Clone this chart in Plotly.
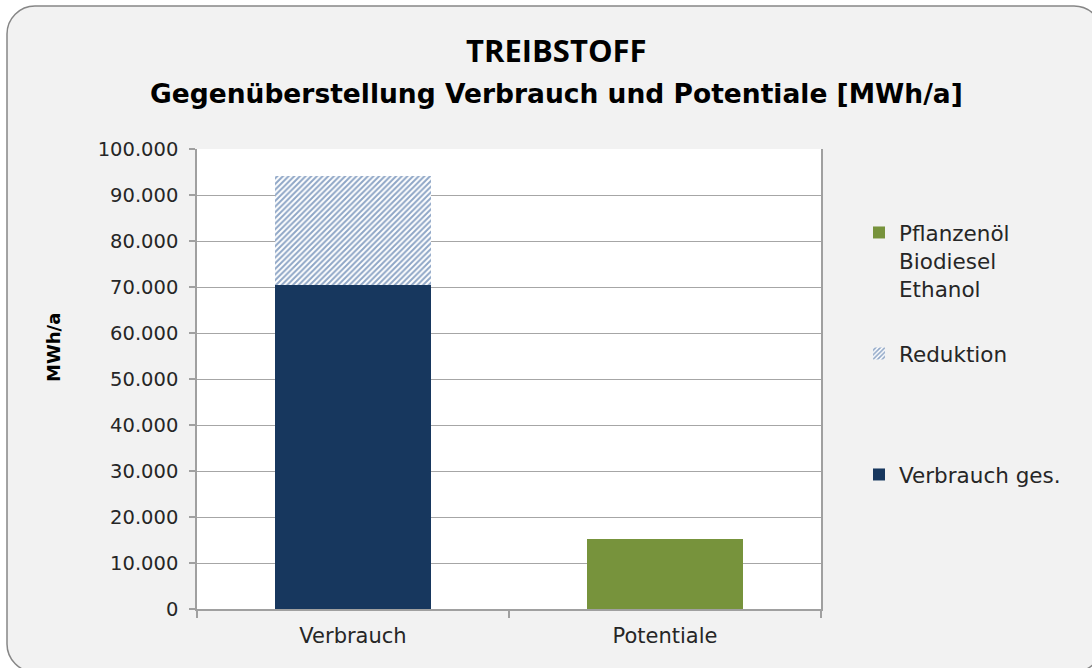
import plotly.graph_objects as go

# Data (MWh/a)
categories = ["Verbrauch", "Potentiale"]
verbrauch_ges = [70500, None]
reduktion = [23600, None]
pflanzenoel = [None, 15200]

y_ticks = [0, 10000, 20000, 30000, 40000, 50000, 60000, 70000, 80000, 90000, 100000]
y_tick_labels = ["0", "10.000", "20.000", "30.000", "40.000", "50.000",
                 "60.000", "70.000", "80.000", "90.000", "100.000"]

W, H = 1092, 668
ML, MR, MT, MB = 197, 271, 149, 59
PW, PH = W - ML - MR, H - MT - MB

NAVY = "#17375E"
GREEN = "#77933C"
FONT = "DejaVu Sans"
TXT = "#262626"


def px(x):
    return (x - ML) / PW


def py(y):
    return (H - MB - y) / PH


fig = go.Figure()
fig.add_bar(
    x=categories, y=verbrauch_ges, name="Verbrauch ges.",
    marker=dict(color=NAVY, line=dict(width=0)), width=0.5, legend="legend3",
)
fig.add_bar(
    x=categories, y=reduktion, name="Reduktion",
    marker=dict(color="white", line=dict(width=0),
                pattern=dict(shape="/", fgcolor="#1F4E8E", bgcolor="white",
                             size=4, solidity=0.5)),
    width=0.5, legend="legend2",
)
fig.add_bar(
    x=categories, y=pflanzenoel, name="Pflanzenöl<br>Biodiesel<br>Ethanol",
    marker=dict(color=GREEN, line=dict(width=0)), width=0.5, legend="legend",
)


def rounded_path(x0, y0, x1, y1, r):
    k = 0.5523 * r
    pts = [
        f"M{px(x0)},{py(y0 + r)}",
        f"C{px(x0)},{py(y0 + r - k)} {px(x0 + r - k)},{py(y0)} {px(x0 + r)},{py(y0)}",
        f"L{px(x1 - r)},{py(y0)}",
        f"C{px(x1 - r + k)},{py(y0)} {px(x1)},{py(y0 + r - k)} {px(x1)},{py(y0 + r)}",
        f"L{px(x1)},{py(y1 - r)}",
        f"C{px(x1)},{py(y1 - r + k)} {px(x1 - r + k)},{py(y1)} {px(x1 - r)},{py(y1)}",
        f"L{px(x0 + r)},{py(y1)}",
        f"C{px(x0 + r - k)},{py(y1)} {px(x0)},{py(y1 - r + k)} {px(x0)},{py(y1 - r)}",
        "Z",
    ]
    return " ".join(pts)


frame = rounded_path(7, 6, 1102, 672, 28)
hole = f"M{px(ML)},{py(MT)} L{px(ML + PW)},{py(MT)} L{px(ML + PW)},{py(MT + PH)} L{px(ML)},{py(MT + PH)} Z"

shapes = [
    dict(type="path", xref="paper", yref="paper", path=frame + " " + hole,
         fillcolor="#F2F2F2", fillrule="evenodd", line=dict(width=0), layer="below"),
    dict(type="path", xref="paper", yref="paper", path=frame,
         fillcolor="rgba(0,0,0,0)", line=dict(color="#868686", width=1.5), layer="below"),
]

annotations = [
    dict(text="<b>TREIBSTOFF</b>", xref="paper", yref="paper", x=px(556), y=py(50),
         showarrow=False, xanchor="center", yanchor="middle",
         font=dict(family="Open Sans", size=31, color="black")),
    dict(text="<b>Gegenüberstellung Verbrauch und Potentiale [MWh/a]</b>",
         xref="paper", yref="paper", x=px(556), y=py(93),
         showarrow=False, xanchor="center", yanchor="middle",
         font=dict(family=FONT, size=26.5, color="black")),
    dict(text="<b>MWh/a</b>", xref="paper", yref="paper", x=px(53), y=py(348),
         showarrow=False, textangle=-90, xanchor="center", yanchor="middle",
         font=dict(family=FONT, size=18, color="black")),
]

legend_common = dict(
    xanchor="left", yanchor="top", bgcolor="rgba(0,0,0,0)", borderwidth=0,
    font=dict(family=FONT, size=21.5, color=TXT), itemwidth=30, valign="top",
    itemclick=False, itemdoubleclick=False,
)

fig.update_layout(
    width=W, height=H,
    margin=dict(l=ML, r=MR, t=MT, b=MB, autoexpand=False),
    paper_bgcolor="white", plot_bgcolor="white",
    barmode="stack", bargap=0.5,
    showlegend=True,
    legend=dict(x=px(859), y=py(212), **legend_common),
    legend2=dict(x=px(859), y=py(333), **legend_common),
    legend3=dict(x=px(859), y=py(454), **legend_common),
    shapes=shapes,
    annotations=annotations,
    xaxis=dict(
        type="category", range=[-0.5, 1.5],
        showline=True, linecolor="#A0A0A0", linewidth=1.5,
        ticks="outside", tickson="boundaries", ticklen=7, tickcolor="#A0A0A0",
        tickwidth=1.5, showgrid=False, zeroline=False, ticklabelstandoff=7,
        tickfont=dict(family=FONT, size=21, color=TXT),
    ),
    yaxis=dict(
        range=[0, 100000], tickvals=y_ticks, ticktext=y_tick_labels,
        showline=True, mirror=True, linecolor="#A0A0A0", linewidth=1.5,
        ticks="outside", ticklen=6, tickcolor="#A0A0A0", tickwidth=1.5,
        showgrid=True, gridcolor="#A6A6A6", gridwidth=1.2, zeroline=False,
        ticklabelstandoff=7,
        tickfont=dict(family=FONT, size=19.5, color=TXT),
    ),
)

fig.write_html("out.html")
